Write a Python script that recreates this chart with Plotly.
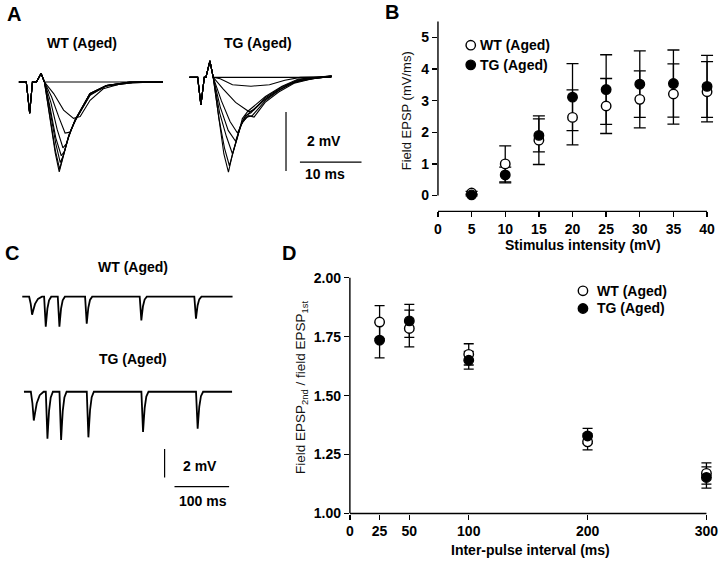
import plotly.graph_objects as go

W, H = 720, 566
FONT = "Liberation Sans, Arial, sans-serif"

# ---------------- Panel B data ----------------
b_stim_mv = [5, 10, 15, 20, 25, 30, 35, 40]
b_x_ticks = [0, 5, 10, 15, 20, 25, 30, 35, 40]
b_y_ticks = [0, 1, 2, 3, 4, 5]
b_wt = [0.08, 1.0, 1.75, 2.47, 2.83, 3.04, 3.21, 3.28]
b_wt_err = [0.05, 0.57, 0.77, 0.87, 0.87, 0.90, 0.95, 0.95]
b_tg = [0.02, 0.65, 1.90, 3.11, 3.35, 3.52, 3.54, 3.45]
b_tg_err = [0.03, 0.25, 0.52, 1.06, 1.10, 1.05, 1.06, 0.98]

# ---------------- Panel D data ----------------
d_interval_ms = [25, 50, 100, 200, 300]
d_x_ticks = [0, 25, 50, 100, 200, 300]
d_y_ticks = [1.00, 1.25, 1.50, 1.75, 2.00]
d_wt = [1.812, 1.785, 1.675, 1.304, 1.170]
d_wt_err = [0.070, 0.078, 0.045, 0.034, 0.045]
d_tg = [1.735, 1.817, 1.650, 1.329, 1.153]
d_tg_err = [0.075, 0.070, 0.038, 0.032, 0.045]

# ---------------- Panel A data (field EPSP sweeps, ms / mV) ----------------
wt_a_artifact_ms = [0, 1.2, 1.75, 2.2, 2.85, 3.6, 4.15]
wt_a_artifact_mv = [0, 0, -1.06, 0, 0, 0.29, 0]
wt_a_sweeps_ms = [
    [23.4],
    [5.65, 7.26, 8.87, 9.95, 11.56, 13.7, 16.9, 19.5, 23.4],
    [5.3, 6.5, 7.5, 8.3, 9.14, 11.56, 14.2, 18.5, 23.4],
    [5.2, 6.2, 7.15, 7.7, 8.5, 9.3, 11.6, 14.2, 18.5, 23.4],
    [5.0, 6.0, 6.88, 7.4, 8.2, 9.2, 11.5, 14.2, 18.0, 23.4],
    [5.0, 6.0, 6.72, 7.2, 8.1, 9.14, 11.56, 14.25, 18.0, 23.4],
    [4.9, 5.9, 6.61, 7.1, 8.06, 9.14, 11.56, 14.25, 18.0, 23.4],
    [4.9, 5.9, 6.55, 7.05, 8.0, 9.1, 11.5, 14.2, 18.0, 23.4],
]
wt_a_sweeps_mv = [
    [0.0],
    [-0.39, -0.95, -1.23, -1.17, -0.62, -0.23, -0.04, 0.0, 0.0],
    [-0.5, -1.2, -1.73, -1.7, -1.3, -0.45, -0.13, -0.02, 0.0],
    [-0.7, -1.6, -2.23, -2.1, -1.6, -1.25, -0.42, -0.13, -0.02, 0.0],
    [-0.8, -1.9, -2.5, -2.35, -1.75, -1.3, -0.4, -0.12, -0.02, 0.0],
    [-0.9, -2.1, -2.73, -2.5, -1.85, -1.28, -0.39, -0.12, 0.0, 0.0],
    [-1.0, -2.3, -2.95, -2.6, -1.84, -1.28, -0.39, -0.12, 0.0, 0.0],
    [-1.05, -2.4, -3.05, -2.65, -1.9, -1.3, -0.4, -0.12, 0.0, 0.0],
]

tg_a_artifact_ms = [0, 1.34, 1.87, 2.42, 2.68, 3.33, 3.87]
tg_a_artifact_mv = [0, 0, -0.94, 0, 0, 0.56, 0]
tg_a_sweeps_ms = [
    [23.1],
    [5.0, 7.0, 10.0, 13.0, 15.5, 18.0, 23.1],
    [5.5, 7.5, 9.7, 10.5, 12.0, 14.0, 16.0, 18.5, 23.1],
    [5.2, 6.6, 7.8, 8.7, 9.6, 10.5, 12.3, 14.5, 17.0, 20.0, 23.1],
    [5.0, 6.3, 7.5, 8.4, 9.3, 10.2, 12.3, 14.5, 17.0, 20.0, 23.1],
    [4.9, 6.0, 7.0, 7.8, 8.7, 9.5, 12.3, 14.8, 17.5, 23.1],
    [4.8, 5.7, 6.5, 7.3, 8.3, 9.1, 10.0, 12.3, 15.0, 17.7, 23.1],
    [4.8, 5.6, 6.34, 7.0, 7.79, 8.6, 9.5, 12.35, 15.05, 17.7, 23.1],
]
tg_a_sweeps_mv = [
    [0.0],
    [-0.05, -0.25, -0.3, -0.25, -0.1, 0.0, 0.03],
    [-0.4, -0.85, -1.17, -1.1, -0.8, -0.5, -0.25, -0.08, 0.03],
    [-0.8, -1.5, -1.89, -1.5, -1.3, -1.35, -0.85, -0.5, -0.2, -0.05, 0.03],
    [-1.0, -1.8, -2.17, -1.6, -1.35, -1.3, -0.8, -0.45, -0.17, -0.04, 0.04],
    [-1.2, -2.0, -2.6, -2.0, -1.45, -1.25, -0.75, -0.4, -0.12, 0.04],
    [-1.4, -2.4, -3.0, -2.4, -1.65, -1.3, -1.2, -0.7, -0.33, -0.08, 0.05],
    [-1.5, -2.6, -3.22, -2.6, -2.05, -1.4, -1.15, -0.65, -0.3, -0.06, 0.05],
]

# ---------------- Panel C data (paired-pulse sweeps) ----------------
c_pulse_ms = [0, 25, 50, 100, 200, 300]
c_wt_amp_mv = [1.26, 2.10, 2.10, 1.90, 1.66, 1.54]
c_tg_amp_mv = [2.02, 3.30, 3.38, 3.20, 2.83, 2.60]
c_wt_span_ms = [-18, 367]
c_tg_span_ms = [-18, 363]
# outline of one response (time offset, fraction of amplitude) - drawing style
dip_dt = [-3, -1.4, 0, 1.2, 3, 6, 10]
dip_frac = [0, -0.4, -1, -0.75, -0.4, -0.12, 0]
dip_widen = [1.8, 1, 1, 1, 1, 1]


def px_x(p):
    return p / W


def px_y(p):
    return 1 - p / H


fig = go.Figure()

# ---- Panel A sweeps
for sm, sv in zip(wt_a_sweeps_ms, wt_a_sweeps_mv):
    fig.add_trace(go.Scatter(x=wt_a_artifact_ms + sm, y=wt_a_artifact_mv + sv, mode="lines",
                             line=dict(color="black", width=1.1), xaxis="x3", yaxis="y3",
                             showlegend=False, hoverinfo="skip"))
for sm, sv in zip(tg_a_sweeps_ms, tg_a_sweeps_mv):
    fig.add_trace(go.Scatter(x=tg_a_artifact_ms + sm, y=tg_a_artifact_mv + sv, mode="lines",
                             line=dict(color="black", width=1.1), xaxis="x4", yaxis="y4",
                             showlegend=False, hoverinfo="skip"))


# ---- Panel C sweeps
def pp_trace(amps, span):
    xs, ys = [span[0]], [0.0]
    for t, a, wdn in zip(c_pulse_ms, amps, dip_widen):
        for dt, fr in zip(dip_dt, dip_frac):
            xs.append(t + dt * wdn)
            ys.append(a * fr)
    xs.append(span[1])
    ys.append(0.0)
    return xs, ys


cx, cy = pp_trace(c_wt_amp_mv, c_wt_span_ms)
fig.add_trace(go.Scatter(x=cx, y=cy, mode="lines", line=dict(color="black", width=1.8),
                         xaxis="x5", yaxis="y5", showlegend=False, hoverinfo="skip"))
cx, cy = pp_trace(c_tg_amp_mv, c_tg_span_ms)
fig.add_trace(go.Scatter(x=cx, y=cy, mode="lines", line=dict(color="black", width=1.8),
                         xaxis="x6", yaxis="y6", showlegend=False, hoverinfo="skip"))


# ---- Panels B and D: error bars first, then markers
def err_trace(x, y, e, xa, ya, w):
    return go.Scatter(x=x, y=y, mode="markers", marker=dict(size=1, color="rgba(0,0,0,0)"),
                      error_y=dict(type="data", array=e, width=w, thickness=1.3, color="black"),
                      xaxis=xa, yaxis=ya, showlegend=False, hoverinfo="skip", cliponaxis=False)


def pt_trace(x, y, name, filled, xa, ya):
    return go.Scatter(x=x, y=y, mode="markers", name=name,
                      marker=dict(size=9.5, symbol="circle",
                                  color="black" if filled else "white",
                                  line=dict(color="black", width=1.4)),
                      xaxis=xa, yaxis=ya, showlegend=False, cliponaxis=False)


fig.add_trace(err_trace(b_stim_mv, b_wt, b_wt_err, "x", "y", 6))
fig.add_trace(err_trace(b_stim_mv, b_tg, b_tg_err, "x", "y", 6))
fig.add_trace(pt_trace(b_stim_mv, b_wt, "WT (Aged)", False, "x", "y"))
fig.add_trace(pt_trace(b_stim_mv, b_tg, "TG (Aged)", True, "x", "y"))

fig.add_trace(err_trace(d_interval_ms, d_wt, d_wt_err, "x2", "y2", 5))
fig.add_trace(err_trace(d_interval_ms, d_tg, d_tg_err, "x2", "y2", 5))
fig.add_trace(pt_trace(d_interval_ms, d_wt, "WT (Aged)", False, "x2", "y2"))
fig.add_trace(pt_trace(d_interval_ms, d_tg, "TG (Aged)", True, "x2", "y2"))

tickfont = dict(family=FONT, size=14, color="black", weight="bold")
axis_common = dict(showgrid=False, zeroline=False, showline=False, ticks="outside",
                   ticklen=5, tickwidth=1.3, tickcolor="black", tickfont=tickfont,
                   fixedrange=True)
hidden = dict(visible=False, fixedrange=True)

layout = dict(
    width=W, height=H, margin=dict(l=0, r=0, t=0, b=0),
    paper_bgcolor="white", plot_bgcolor="white", showlegend=False,
    font=dict(family=FONT, color="black"),
    # Panel B
    xaxis=dict(domain=[px_x(437), px_x(718)], range=[0, 41.48], anchor="y",
               tickvals=b_x_ticks, **axis_common),
    yaxis=dict(domain=[px_y(213.1), px_y(17)], range=[-0.5, 5.59], anchor="x",
               tickvals=b_y_ticks, **axis_common),
    # Panel D
    xaxis2=dict(domain=[px_x(348.3), px_x(718)], range=[0, 308.9], anchor="y2",
                tickvals=d_x_ticks, **axis_common),
    yaxis2=dict(domain=[px_y(520.7), px_y(274.7)], range=[1.0, 2.025], anchor="x2",
                tickvals=d_y_ticks, tickformat=".2f", **axis_common),
    # Panel A
    xaxis3=dict(domain=[px_x(8), px_x(172)], range=[-1.129, 25.32], anchor="y3", **hidden),
    yaxis3=dict(domain=[px_y(185), px_y(58)], range=[-3.45, 0.783], anchor="x3", **hidden),
    xaxis4=dict(domain=[px_x(180), px_x(368)], range=[-1.08, 29.24], anchor="y4", **hidden),
    yaxis4=dict(domain=[px_y(185), px_y(52)], range=[-3.61, 0.823], anchor="x4", **hidden),
    # Panel C
    xaxis5=dict(domain=[px_x(8), px_x(240)], range=[-36.9, 384.9], anchor="y5", **hidden),
    yaxis5=dict(domain=[px_y(340), px_y(288)], range=[-2.76, 0.83], anchor="x5", **hidden),
    xaxis6=dict(domain=[px_x(8), px_x(240)], range=[-40, 381.8], anchor="y6", **hidden),
    yaxis6=dict(domain=[px_y(500), px_y(385)], range=[-7.12, 0.81], anchor="x6", **hidden),
)

shapes = []
# axis lines (B): y from 0 to 5.5 at x=0, x from 0 to 40 at bottom
shapes.append(dict(type="line", xref="paper", yref="y", x0=px_x(437), x1=px_x(437), y0=0, y1=5.5,
                   line=dict(color="black", width=1.4)))
shapes.append(dict(type="line", xref="x", yref="paper", x0=0, x1=40, y0=px_y(213.1), y1=px_y(213.1),
                   line=dict(color="black", width=1.4)))
# axis lines (D)
shapes.append(dict(type="line", xref="paper", yref="y2", x0=px_x(348.3), x1=px_x(348.3), y0=1.0, y1=2.0,
                   line=dict(color="black", width=1.4)))
shapes.append(dict(type="line", xref="x2", yref="paper", x0=0, x1=300, y0=px_y(520.7), y1=px_y(520.7),
                   line=dict(color="black", width=1.4)))
# scale bars A (in TG axes units: 2 mV, 10 ms)
shapes.append(dict(type="line", xref="x4", yref="y4", x0=15.69, x1=15.69, y0=-1.177, y1=-3.177,
                   line=dict(color="black", width=1.2)))
shapes.append(dict(type="line", xref="x4", yref="y4", x0=17.95, x1=27.95, y0=-2.877, y1=-2.877,
                   line=dict(color="black", width=1.2)))
# scale bars C (2 mV, 100 ms)
shapes.append(dict(type="line", xref="x6", yref="y6", x0=239.5, x1=239.5, y0=-4.02, y1=-6.02,
                   line=dict(color="black", width=1.2)))
shapes.append(dict(type="line", xref="x6", yref="y6", x0=257.6, x1=357.6, y0=-6.66, y1=-6.66,
                   line=dict(color="black", width=1.2)))


# legend symbols
def leg_circle(cx, cy, filled):
    return dict(type="circle", xref="paper", yref="paper", xsizemode="pixel", ysizemode="pixel",
                xanchor=px_x(cx), yanchor=px_y(cy), x0=-4.7, x1=4.7, y0=-4.7, y1=4.7,
                line=dict(color="black", width=1.4), fillcolor="black" if filled else "white")


shapes += [leg_circle(470, 44, False), leg_circle(470, 64, True),
           leg_circle(583, 294, False), leg_circle(583, 312, True)]

annotations = []


def txt(text, x, y, size=14, bold=True, xanchor="center", angle=0, color="black"):
    annotations.append(dict(text=text, x=px_x(x), y=px_y(y), xref="paper", yref="paper",
                            xanchor=xanchor, yanchor="middle", showarrow=False, textangle=angle,
                            font=dict(family=FONT, size=size, color=color,
                                      weight="bold" if bold else "normal")))


# panel letters
txt("A", 10, 12, size=20)
txt("B", 391, 10, size=20)
txt("C", 8, 256, size=20)
txt("D", 287, 256, size=20)
# panel A / C labels
txt("WT (Aged)", 79, 42)
txt("TG (Aged)", 256, 42)
txt("2 mV", 322, 142)
txt("10 ms", 323, 175)
txt("WT (Aged)", 130, 270)
txt("TG (Aged)", 130, 363)
txt("2 mV", 197, 472)
txt("100 ms", 200, 508)
# legends
txt("WT (Aged)", 477, 44, xanchor="left")
txt("TG (Aged)", 477, 64, xanchor="left")
txt("WT (Aged)", 595, 294, xanchor="left")
txt("TG (Aged)", 595, 312, xanchor="left")
# axis titles
txt("Field EPSP (mV/ms)", 405, 111, size=13, bold=False, angle=-90, color="#111111")
txt("Stimulus intensity (mV)", 583, 247)
txt("Field EPSP<sub>2nd</sub> / field EPSP<sub>1st</sub>", 299, 392, size=13.5, bold=False,
    angle=-90, color="#111111")
txt("Inter-pulse interval (ms)", 530, 558)

layout["shapes"] = shapes
layout["annotations"] = annotations
fig.update_layout(**layout)
fig.write_html("out.html", config={"displayModeBar": False, "staticPlot": True},
               post_script="document.body.style.margin='0px';document.body.style.overflow='hidden';")
